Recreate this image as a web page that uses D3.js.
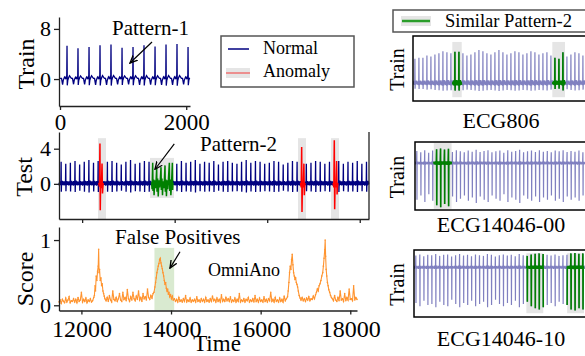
<!DOCTYPE html>
<html>
<head>
<meta charset="utf-8">
<script src="https://cdn.jsdelivr.net/npm/d3@7"></script>
<style>
  body { margin: 0; background: #fff; }
  svg text { font-family: "Liberation Serif", "Times New Roman", serif; fill: #000; }
  .axis path, .axis line { stroke: #222; stroke-width: 1.3; }
  .axis text { font-family: "Liberation Serif", "Times New Roman", serif; }
</style>
</head>
<body>
<svg id="chart" width="585" height="356"></svg>
<script>
// ---- data ----

// train panel: R-peak positions and heights, one beat shape (fraction of peak)
const trainPeakTimes = [111, 285, 460, 634, 808, 983, 1157, 1331, 1506, 1680, 1854, 2029];
const trainPeaks = [5.3, 4.9, 5.1, 5.4, 5.5, 5.0, 5.1, 5.4, 5.2, 5.5, 5.6, 5.1];
const trainShape = [[-87, 0.02], [-70, -0.17], [-60, -0.04], [-40, 0.06], [-25, 0.02], [-10, 0.08], [-4, 0],
  [0, 1], [4, -0.19], [12, -0.04], [25, 0.04], [40, 0.1], [55, 0.06], [70, 0.02]];
const trainTicksX = [0, 2000];
const trainTicksY = [0, 8];

// test panel: beat every 100 samples from 11500
const testStart = 11500;
const testPeriod = 100;
const testAmps = [
  2.5, 2.3, 2.4, 2.6, 2.2, 2.5, 2.7, 2.4, 2.6, 2.3,
  2.5, 2.6, 2.4, 2.2, 2.5, 2.7, 2.3, 2.4, 2.6, 2.5,
  2.8, 2.4, 2.6, 2.7, 2.5, 2.3, 2.6, 2.4, 2.5, 2.7,
  2.3, 2.5, 2.4, 2.6, 2.2, 2.5, 2.6, 2.4, 2.3, 2.5,
  2.7, 2.4, 2.6, 2.5, 2.3, 2.4, 2.6, 2.5, 2.2, 2.4,
  2.6, 2.5, 2.7, 2.3, 2.4, 2.6, 2.5, 2.3, 2.5, 2.4,
  2.6, 2.3, 2.5, 2.4, 2.6, 2.3, 2.5];
const testShape = [[0, 0.05], [8, -0.08], [16, 0.12], [24, -0.06], [32, 0.1], [40, -0.03], [46, 1], [50, -0.36],
  [56, 0.12], [63, -0.07], [71, 0.14], [79, -0.05], [87, 0.11], [94, -0.02]];

const anomalySegs = [
  [[12360, 0.1], [12375, -0.3], [12385, 4.6], [12392, -3.0], [12400, 0.4], [12415, -0.5], [12430, 2.3], [12440, -1.1], [12455, 0.1]],
  [[16720, 0.1], [16735, -0.4], [16745, 4.2], [16752, -3.2], [16762, 0.3], [16778, -0.4], [16793, 2.3], [16802, -1.3], [16815, 0.1]],
  [[17425, 0.1], [17440, -0.4], [17450, 4.95], [17458, -2.9], [17468, 0.3], [17485, -0.4], [17500, 2.6], [17510, -1.2], [17525, 0.1]]
];
const anomalyWindows = [[12343, 12516], [16665, 16838], [17378, 17551]];

const pattern2Seg = [[13500, 0.2], [13512, -0.6], [13525, 2.4], [13532, -0.8], [13545, 0.5], [13555, -1.3], [13570, 0.4],
  [13585, -0.5], [13600, 0.5], [13611, 1.8], [13618, -0.9], [13632, 0.6], [13645, -1.45], [13660, 0.4], [13675, -0.4],
  [13690, 0.5], [13705, 1.9], [13712, -0.7], [13725, 0.6], [13737, -1.3], [13750, 0.3], [13765, -0.5], [13778, 0.5],
  [13791, 2.1], [13798, -0.9], [13810, 0.5], [13822, -1.4], [13835, 0.4], [13850, -0.6], [13865, 0.5], [13885, 2.4],
  [13892, -0.8], [13905, 0.5], [13918, -1.3], [13935, 0.3], [13950, 2.4], [13956, -0.7], [13965, 0.1]];
const pattern2Window = [13467, 13985];
const testTicksX = [12000, 14000, 16000, 18000];
const testTicksY = [0, 4];

// score panel: quiet stretches sampled every 25 steps, peaks as [time, score]
const scoreStep = 25;
const scoreQuietA = [11500, [.05, .08, .03, .09, .06, .04, .11, .05, .08, .13, .04, .07, .06, .1, .05, .09,
  .04, .12, .06, .08, .2, .05, .09, .06, .11, .04, .08, .06, .1, .05, .07, .12]];
const scorePeak1 = [[12290, .15], [12305, .3], [12315, .22], [12330, .45], [12345, .38], [12360, .52], [12375, .6],
  [12385, .86], [12395, .5], [12405, .55], [12420, .38], [12435, .42], [12450, .3], [12465, .33], [12480, .22],
  [12495, .18], [12510, .14], [12525, .1]];
const scoreQuietB = [12550, [.07, .12, .06, .15, .08, .05, .22, .09, .07, .12, .06, .1, .18, .08, .06, .2, .09,
  .12, .07, .24, .1, .06, .13, .08, .2, .1, .07, .14, .09, .22, .08, .12, .06, .18, .1, .13, .08, .25, .12, .09,
  .15, .11, .18]];
const scorePeak2 = [[13620, .2], [13640, .28], [13655, .35], [13670, .42], [13685, .5], [13700, .55], [13715, .6],
  [13730, .64], [13745, .7], [13760, .72], [13775, .65], [13790, .6], [13805, .56], [13820, .5], [13835, .45],
  [13850, .38], [13865, .32], [13880, .35], [13895, .26], [13910, .22], [13925, .25], [13940, .17], [13955, .2],
  [13970, .13], [13990, .16], [14010, .1], [14030, .14], [14050, .08]];
const scoreQuietC = [14075, [.1, .06, .09, .05, .12, .06, .08, .05, .1, .06,
  .15, .05, .08, .06, .11, .05, .08, .06, .09, .05,
  .13, .06, .08, .05, .1, .06, .09, .05, .12, .06,
  .08, .05, .1, .06, .14, .07, .09, .05, .11, .06,
  .09, .05, .16, .06, .09, .06, .12, .07, .1, .06,
  .13, .05, .08, .06, .11, .05, .09, .06, .18, .05,
  .08, .06, .1, .05, .09, .07, .12, .05, .08, .06,
  .1, .05, .15, .06, .09, .05, .11, .06, .08, .05,
  .13, .06, .09, .05, .1, .07, .2, .06, .09, .05,
  .12, .06, .08, .05, .11, .06, .09, .05, .14, .07,
  .1, .13]];
const scorePeak3 = [[16615, .22], [16630, .35], [16645, .5], [16660, .6], [16675, .55], [16690, .7], [16705, .78],
  [16720, .62], [16735, .5], [16750, .45], [16765, .4], [16780, .42], [16795, .35], [16810, .32], [16825, .28],
  [16840, .22], [16860, .15], [16880, .11]];
const scoreQuietD = [16900, [.08, .12, .07, .1, .06, .11, .08, .13, .07, .1, .09, .14, .1, .16]];
const scorePeak4 = [[17245, .2], [17265, .25], [17285, .22], [17305, .3], [17325, .33], [17345, .38], [17365, .45],
  [17385, .5], [17400, .6], [17415, .72], [17430, .85], [17440, 1.0], [17450, .75], [17462, .55], [17475, .45],
  [17490, .35], [17505, .3], [17520, .24], [17540, .2], [17560, .15], [17580, .12]];
const scoreQuietE = [17600, [.1, .07, .15, .08, .06, .12, .07, .22, .08, .1, .06, .18, .07, .12, .08, .25, .09,
  .1, .07, .3, .08, .12, .09]];
const falsePosWindow = [13630, 14070];
const scoreTicksX = [12000, 14000, 16000, 18000];
const scoreTicksY = [0, 1];

// right panels: one beat shape each, heights per beat, green windows
const rightPeriod = 100;
const ecg806Shape = [[0, 0.03], [12, -0.08], [24, 0.07], [36, -0.1], [44, 0.02], [48, 1], [52, -0.26], [58, 0.05],
  [70, -0.09], [82, 0.08], [92, -0.06]];
const ecg806Amps = [2.2, 2.3, 2.3, 2.5, 2.4, 2.6, 2.7, 2.9, 2.8, 2.7, 2.85, 2.85, 2.7, 2.5, 2.6, 2.8, 3.0, 2.9, 2.7, 2.6,
  2.8, 3.0, 2.8, 2.6, 2.7, 2.9, 2.8, 2.6, 2.7, 2.9, 2.8, 2.6, 2.7, 2.8, 2.5, 2.3, 2.2, 2.8, 2.4, 2.6, 2.8, 2.7, 2.5, 2.6];
const ecg806Green = [[983, 1218], [3483, 3800]];

const ecg14046Shape = [[0, 0.02], [10, -0.04], [20, 0.04], [30, -0.03], [40, 0.03], [46, 0.33], [50, -1], [54, 0.03],
  [64, -0.04], [76, 0.04], [88, -0.03]];
const ecg00Amps = [3.4, 3.0, 3.6, 2.9, 3.5, 3.9, 4.1, 3.8, 4.0, 3.1, 3.6, 3.3, 3.0, 3.5, 3.2, 3.7, 3.1, 3.4, 3.6, 3.0,
  3.3, 3.5, 2.9, 3.6, 3.2, 3.4, 3.7, 3.0, 3.3, 3.5, 3.1, 3.6, 3.2, 3.4, 3.0, 3.5, 3.3, 3.6, 3.1, 3.4, 3.2, 3.5, 3.0, 3.4];
const ecg00Green = [[475, 925]];
const ecg10Amps = [3.3, 3.6, 3.1, 3.5, 3.4, 3.7, 3.2, 3.5, 3.6, 3.0, 3.4, 3.7, 3.3, 3.5, 3.1, 3.6, 3.4, 3.2, 3.7, 3.5,
  3.0, 3.4, 3.6, 3.3, 3.5, 3.1, 3.7, 3.4, 3.2, 3.6, 3.8, 3.9, 3.7, 3.5, 3.3, 3.6, 3.2, 3.4, 3.5, 3.9, 4.0, 3.8, 3.9, 3.6];
const ecg10Green = [[2825, 3250], [3850, 4275]];

// ---- helpers ----
const svg = d3.select('#chart');
const navy = '#000080', red = '#ff0000', green = '#008000', grey = '#e5e5e5',
  purple = '#8080c0', orange = '#ff9430';

function beats(starts, amps, shape) {
  const pts = [];
  starts.forEach((t0, i) => shape.forEach(([dt, f]) => pts.push({t: t0 + dt, v: f * amps[i]})));
  return pts;
}
const pairs = arr => arr.map(([t, v]) => ({t, v}));
const grid = ([t0, vals]) => vals.map((v, i) => ({t: t0 + i * scoreStep, v}));
const inside = (t, wins) => wins.some(([a, b]) => t >= a && t <= b);

const defs = svg.append('defs');
defs.append('marker')
  .attr('id', 'arr').attr('viewBox', '0 0 10 10').attr('refX', 9).attr('refY', 5)
  .attr('markerWidth', 7).attr('markerHeight', 7).attr('orient', 'auto')
  .append('path').attr('d', 'M0,1 L9,5 L0,9').attr('fill', 'none').attr('stroke', '#000').attr('stroke-width', 1.6);

function arrow(x, y, from, to) {
  svg.append('line')
    .attr('x1', x(from[0])).attr('y1', y(from[1]))
    .attr('x2', x(to[0])).attr('y2', y(to[1]))
    .attr('stroke', '#000').attr('stroke-width', 1.2)
    .attr('marker-end', 'url(#arr)');
}

function yLabel(text, x, y, size) {
  svg.append('text')
    .attr('transform', 'translate(' + x + ',' + y + ') rotate(-90)')
    .attr('text-anchor', 'middle')
    .style('font-size', size + 'px')
    .text(text);
}

function leftAxis(y, x0, ticks) {
  svg.append('g').attr('class', 'axis')
    .attr('transform', 'translate(' + x0 + ',0)')
    .call(d3.axisLeft(y).tickValues(ticks).tickSize(5).tickSizeOuter(0).tickPadding(3).tickFormat(d3.format('d')))
    .selectAll('text').style('font-size', '22px');
}

// ---- train panel ----
const trainX = d3.scaleLinear().domain([-16, 2060]).range([59, 190]);
const trainY = d3.scaleLinear().domain([-4.3, 9.9]).range([106, 17]);
const trainData = [{t: 0, v: 0.1}].concat(beats(trainPeakTimes, trainPeaks, trainShape))
  .filter(d => d.t >= 0 && d.t <= 2055);

svg.append('path').datum(trainData)
  .attr('fill', 'none').attr('stroke', navy).attr('stroke-width', 1.3)
  .attr('d', d3.line().x(d => trainX(d.t)).y(d => trainY(d.v)));

leftAxis(trainY, 59, trainTicksY);
svg.append('g').attr('class', 'axis')
  .attr('transform', 'translate(0,106)')
  .call(d3.axisBottom(trainX).tickValues(trainTicksX).tickSize(4).tickSizeOuter(0).tickPadding(4).tickFormat(d3.format('d')))
  .selectAll('text').style('font-size', '23px');
yLabel('Train', 34, 64, 24);

svg.append('text').attr('x', trainX(824)).attr('y', trainY(7.03)).style('font-size', '21px').text('Pattern-1');
arrow(trainX, trainY, [1458, 5.91], [1109, 2.56]);

// ---- legend (left) ----
const leg = svg.append('g');
leg.append('rect').attr('x', 221).attr('y', 36).attr('width', 133).attr('height', 51)
  .attr('fill', '#fff').attr('stroke', '#555').attr('stroke-width', 1.5);
leg.append('line').attr('x1', 228).attr('x2', 249).attr('y1', 49).attr('y2', 49)
  .attr('stroke', navy).attr('stroke-width', 1.5);
leg.append('rect').attr('x', 226).attr('y', 68).attr('width', 24).attr('height', 10).attr('fill', grey);
leg.append('line').attr('x1', 226).attr('x2', 250).attr('y1', 73).attr('y2', 73)
  .attr('stroke', '#f06060').attr('stroke-width', 1.3);
leg.append('text').attr('x', 263).attr('y', 54).style('font-size', '18px').text('Normal');
leg.append('text').attr('x', 263).attr('y', 77).style('font-size', '18px').text('Anomaly');

// ---- test panel ----
const testX = d3.scaleLinear().domain([11500, 18200]).range([59, 369]);
const testY = d3.scaleLinear().domain([-4, 5.9]).range([219, 132]);
const tLine = d3.line().x(d => testX(d.t)).y(d => testY(d.v));

anomalyWindows.forEach(([a, b]) => {
  svg.append('rect').attr('x', testX(a)).attr('width', testX(b) - testX(a))
    .attr('y', testY(5.2)).attr('height', testY(-4) - testY(5.2)).attr('fill', grey);
});
svg.append('rect').attr('x', testX(pattern2Window[0])).attr('width', testX(pattern2Window[1]) - testX(pattern2Window[0]))
  .attr('y', testY(2.95)).attr('height', testY(-1.6) - testY(2.95)).attr('fill', grey);

const testStarts = testAmps.map((a, i) => testStart + i * testPeriod);
const testData = beats(testStarts, testAmps, testShape);
const skip = anomalySegs.map(s => [s[0][0], s[s.length - 1][0]]).concat([[pattern2Seg[0][0], pattern2Seg[pattern2Seg.length - 1][0]]]);

svg.append('path').datum(testData)
  .attr('fill', 'none').attr('stroke', navy).attr('stroke-width', 1.3)
  .attr('d', tLine.defined(d => !inside(d.t, skip)));
const tLine2 = d3.line().x(d => testX(d.t)).y(d => testY(d.v));
anomalySegs.forEach(s => {
  svg.append('path').datum(pairs(s))
    .attr('fill', 'none').attr('stroke', red).attr('stroke-width', 1.5).attr('d', tLine2);
});
svg.append('path').datum(pairs(pattern2Seg))
  .attr('fill', 'none').attr('stroke', green).attr('stroke-width', 1.5).attr('d', tLine2);

leftAxis(testY, 59, testTicksY);
svg.append('g').attr('class', 'axis')
  .attr('transform', 'translate(0,219)')
  .call(d3.axisBottom(testX).tickValues(testTicksX).tickSize(4).tickSizeOuter(0).tickFormat(''));
svg.append('line').attr('x1', 369).attr('x2', 369).attr('y1', 132).attr('y2', 219)
  .attr('stroke', '#222').attr('stroke-width', 1.3);
yLabel('Test', 32, 177, 24);

svg.append('text').attr('x', testX(14547)).attr('y', testY(3.74)).style('font-size', '21px').text('Pattern-2');
arrow(testX, testY, [13992, 4.54], [13575, 1.66]);

// ---- score panel ----
const scoreX = d3.scaleLinear().domain([11500, 18150]).range([59, 357]);
const scoreY = d3.scaleLinear().domain([-0.08, 1.2]).range([310.5, 227]);

svg.append('rect').attr('x', scoreX(falsePosWindow[0])).attr('width', scoreX(falsePosWindow[1]) - scoreX(falsePosWindow[0]))
  .attr('y', scoreY(0.88)).attr('height', scoreY(-0.08) - scoreY(0.88)).attr('fill', '#d9ead0');

const sData = [].concat(grid(scoreQuietA), pairs(scorePeak1), grid(scoreQuietB), pairs(scorePeak2),
  grid(scoreQuietC), pairs(scorePeak3), grid(scoreQuietD), pairs(scorePeak4), grid(scoreQuietE));
svg.append('path').datum(sData)
  .attr('fill', 'none').attr('stroke', orange).attr('stroke-width', 1.1)
  .attr('d', d3.line().x(d => scoreX(d.t)).y(d => scoreY(d.v)));
svg.append('g').selectAll('circle').data(sData).join('circle')
  .attr('cx', d => scoreX(d.t)).attr('cy', d => scoreY(d.v)).attr('r', 0.8).attr('fill', orange);

leftAxis(scoreY, 59, scoreTicksY);
svg.append('g').attr('class', 'axis')
  .attr('transform', 'translate(0,310.5)')
  .call(d3.axisBottom(scoreX).tickValues(scoreTicksX).tickSize(4).tickSizeOuter(0).tickPadding(5).tickFormat(d3.format('d')))
  .selectAll('text').style('font-size', '24px');
yLabel('Score', 33, 279, 24);
svg.append('text').attr('x', 217).attr('y', 351).attr('text-anchor', 'middle').style('font-size', '23px').text('Time');

svg.append('text').attr('x', scoreX(12750)).attr('y', scoreY(0.94)).style('font-size', '21px').text('False Positives');
arrow(scoreX, scoreY, [14200, 0.82], [13977, 0.57]);
svg.append('text').attr('x', scoreX(14825)).attr('y', scoreY(0.456)).style('font-size', '18px').text('OmniAno');

// ---- right legend ----
const leg2 = svg.append('g');
leg2.append('rect').attr('x', 393).attr('y', 10).attr('width', 200).attr('height', 22)
  .attr('fill', '#fff').attr('stroke', '#555').attr('stroke-width', 1.5);
leg2.append('rect').attr('x', 401).attr('y', 16).attr('width', 30).attr('height', 10).attr('fill', grey);
leg2.append('line').attr('x1', 402).attr('x2', 430).attr('y1', 21).attr('y2', 21)
  .attr('stroke', '#2a9d2a').attr('stroke-width', 2.5);
leg2.append('text').attr('x', 445).attr('y', 27).style('font-size', '18.5px').text('Similar Pattern-2');

// ---- right panels ----
function rightPanel(id, box, yDomain, amps, shape, greens, greyY, name, nameY) {
  const x = d3.scaleLinear().domain([0, amps.length * rightPeriod]).range([box.x, box.x + box.w]);
  const y = d3.scaleLinear().domain(yDomain).range([box.y + box.h, box.y]);
  defs.append('clipPath').attr('id', id).append('rect')
    .attr('x', box.x).attr('y', box.y).attr('width', box.w).attr('height', box.h);
  const g = svg.append('g').attr('clip-path', 'url(#' + id + ')');
  greens.forEach(([a, b]) => {
    g.append('rect').attr('x', x(a)).attr('width', x(b) - x(a))
      .attr('y', y(greyY[1])).attr('height', y(greyY[0]) - y(greyY[1])).attr('fill', grey);
  });
  const data = beats(amps.map((a, i) => i * rightPeriod), amps, shape);
  const line = d3.line().x(d => x(d.t)).y(d => y(d.v));
  g.append('path').datum(data).attr('fill', 'none').attr('stroke', purple).attr('stroke-width', 1.2).attr('d', line);
  g.append('path').datum(data).attr('fill', 'none').attr('stroke', green).attr('stroke-width', 1.6)
    .attr('d', d3.line().x(d => x(d.t)).y(d => y(d.v)).defined(d => inside(d.t, greens)));
  svg.append('rect').attr('x', box.x).attr('y', box.y).attr('width', box.w).attr('height', box.h)
    .attr('fill', 'none').attr('stroke', '#000').attr('stroke-width', 1.5);
  yLabel('Train', 404, box.y + box.h / 2 + 1, 20);
  svg.append('text').attr('x', 501).attr('y', nameY).attr('text-anchor', 'middle').style('font-size', '22px').text(name);
}

rightPanel('c806', {x: 413, y: 36, w: 176, h: 65}, [-1.7, 4.3], ecg806Amps, ecg806Shape, ecg806Green, [-1.35, 3.75], 'ECG806', 128);
rightPanel('c00', {x: 415, y: 142, w: 174, h: 68}, [-4.35, 1.95], ecg00Amps, ecg14046Shape, ecg00Green, [-4.25, 1.85], 'ECG14046-00', 232);
rightPanel('c10', {x: 414, y: 250, w: 175, h: 67}, [-4.6, 1.6], ecg10Amps, ecg14046Shape, ecg10Green, [-4.25, 1.3], 'ECG14046-10', 346);
</script>
</body>
</html>
